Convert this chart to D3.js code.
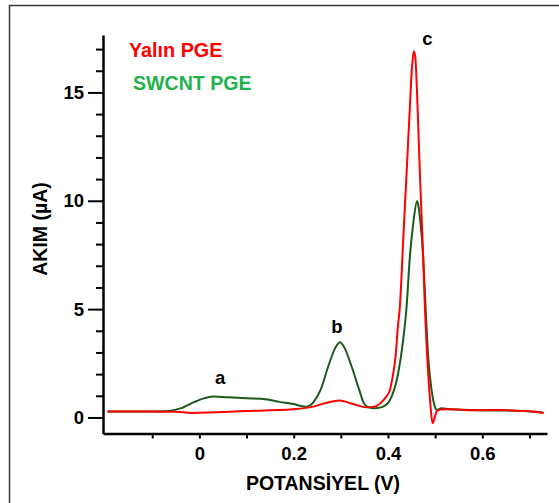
<!DOCTYPE html>
<html>
<head>
<meta charset="utf-8">
<script src="https://cdn.jsdelivr.net/npm/d3@7"></script>
<style>
  body { margin: 0; background: #fff; }
  svg { display: block; font-family: "Liberation Sans", Arial, sans-serif; font-weight: bold; }
</style>
</head>
<body>
<div id="chart"></div>
<script>
// Yalın PGE (red) - potential (V) and current (µA)
const yalinPot = [-0.195, -0.15, -0.1, -0.05, -0.015, 0.0, 0.05, 0.1, 0.15, 0.2, 0.2415, 0.27, 0.2966, 0.326,
  0.3545, 0.372, 0.386, 0.396, 0.404, 0.41, 0.416, 0.421, 0.4252, 0.4322, 0.4394, 0.4464, 0.451, 0.4549, 0.458,
  0.4627, 0.4676, 0.4733, 0.4782, 0.4852, 0.4903, 0.4945, 0.499, 0.503, 0.5136, 0.53, 0.56, 0.6, 0.64, 0.68, 0.71, 0.73];
const yalinCur = [0.27, 0.27, 0.27, 0.26, 0.21, 0.22, 0.25, 0.3, 0.33, 0.38, 0.5, 0.68, 0.78, 0.62,
  0.47, 0.5, 0.7, 0.95, 1.27, 1.9, 2.81, 4.2, 5.11, 8.19, 11.27, 14.34, 16.2, 16.9, 16.6,
  14.34, 11.27, 8.19, 5.11, 2.04, 0.5, -0.27, 0.0, 0.27, 0.38, 0.38, 0.35, 0.33, 0.35, 0.3, 0.28, 0.2];

// SWCNT PGE (green)
const swcntPot = [-0.195, -0.1, -0.065, -0.04, -0.01, 0.0, 0.014, 0.03, 0.06, 0.1, 0.14, 0.17, 0.2, 0.224, 0.235,
  0.2415, 0.257, 0.273, 0.288, 0.298, 0.308, 0.323, 0.339, 0.349, 0.358, 0.372, 0.39, 0.4076, 0.4216, 0.4322,
  0.4394, 0.4464, 0.4536, 0.4619, 0.465, 0.469, 0.4746, 0.4797, 0.4852, 0.4924, 0.4994, 0.503, 0.5136, 0.53,
  0.6, 0.65, 0.7, 0.73];
const swcntCur = [0.27, 0.28, 0.3, 0.42, 0.72, 0.81, 0.91, 0.97, 0.93, 0.89, 0.84, 0.72, 0.62, 0.5, 0.56,
  0.7, 1.27, 2.34, 3.2, 3.47, 3.2, 2.34, 1.27, 0.65, 0.47, 0.42, 0.5, 0.96, 2.04, 3.58,
  5.11, 7.42, 8.96, 9.99, 9.7, 8.96, 7.42, 5.11, 2.81, 1.27, 0.5, 0.35, 0.42, 0.38,
  0.33, 0.32, 0.28, 0.22];

// tick values
const xTicks = [-0.1, 0, 0.1, 0.2, 0.3, 0.4, 0.5, 0.6, 0.7];
const xLabels = [0, 0.2, 0.4, 0.6];
const yMajor = [0, 5, 10, 15];
const yMinor = [1, 2, 3, 4, 6, 7, 8, 9, 11, 12, 13, 14, 16, 17];

// peak labels
const peakNames = ['a', 'b', 'c'];
const peakPot = [0.0438, 0.2917, 0.4835];
const peakCur = [1.55, 3.89, 17.19];

const w = 559;
const h = 503;

const svg = d3.select('#chart').append('svg')
    .attr('width', w)
    .attr('height', h);

// frame (only top/left edges are in view)
svg.append('rect')
    .attr('x', 9.5).attr('y', 5.5)
    .attr('width', 700).attr('height', 700)
    .attr('fill', 'none')
    .attr('stroke', '#3a3a3a')
    .attr('stroke-width', 1.5);

const xScale = d3.scaleLinear().domain([-0.2044, 0.7372]).range([103, 547]);
const yScale = d3.scaleLinear().domain([-0.74, 17.65]).range([433.5, 35]);

// x axis
const xAxis = d3.axisBottom(xScale)
    .tickValues(xTicks)
    .tickSize(5)
    .tickSizeOuter(0)
    .tickPadding(8)
    .tickFormat((d) => xLabels.some((v) => Math.abs(v - d) < 1e-9) ? d3.format('~g')(d) : '');

const gx = svg.append('g')
    .attr('transform', 'translate(0,433.5)')
    .call(xAxis);
gx.select('.domain').attr('stroke-width', 2.5);
gx.selectAll('.tick line').attr('stroke-width', 2);
gx.selectAll('.tick text').attr('font-size', 18.5).attr('fill', '#000');
gx.attr('font-family', null).attr('font-size', null);

// y axis: minor ticks
const gyMinor = svg.append('g')
    .attr('transform', 'translate(103,0)')
    .call(d3.axisLeft(yScale).tickValues(yMinor).tickSize(7).tickSizeOuter(0).tickFormat(''));
gyMinor.selectAll('.tick line').attr('stroke-width', 2);

// y axis: major ticks + labels
const gy = svg.append('g')
    .attr('transform', 'translate(103,0)')
    .call(d3.axisLeft(yScale).tickValues(yMajor).tickSize(15).tickSizeOuter(0).tickPadding(4));
gy.select('.domain').attr('stroke-width', 2.5);
gyMinor.select('.domain').remove();
gy.selectAll('.tick line').attr('stroke-width', 2);
gy.selectAll('.tick text').attr('font-size', 18.5).attr('fill', '#000');
gy.attr('font-family', null).attr('font-size', null);

// axis titles
svg.append('text')
    .attr('x', 323)
    .attr('y', 490)
    .attr('text-anchor', 'middle')
    .attr('font-size', 19.5)
    .text('POTANSİYEL (V)');

svg.append('text')
    .attr('transform', 'translate(47,229) rotate(-90)')
    .attr('text-anchor', 'middle')
    .attr('font-size', 19.5)
    .text('AKIM (µA)');

// curves
const line = d3.line()
    .x((d) => xScale(d[0]))
    .y((d) => yScale(d[1]))
    .curve(d3.curveMonotoneX);

const yalin = yalinPot.map((v, i) => [v, yalinCur[i]]);
const swcnt = swcntPot.map((v, i) => [v, swcntCur[i]]);

svg.append('path')
    .datum(swcnt)
    .attr('fill', 'none')
    .attr('stroke', '#1c5a1c')
    .attr('stroke-width', 2)
    .attr('stroke-linejoin', 'round')
    .attr('d', line);

svg.append('path')
    .datum(yalin)
    .attr('fill', 'none')
    .attr('stroke', '#ff0000')
    .attr('stroke-width', 2)
    .attr('stroke-linejoin', 'round')
    .attr('d', line);

// peak labels
svg.selectAll('.peak')
    .data(peakNames)
    .enter()
    .append('text')
    .attr('class', 'peak')
    .attr('x', (d, i) => xScale(peakPot[i]))
    .attr('y', (d, i) => yScale(peakCur[i]))
    .attr('text-anchor', 'middle')
    .attr('font-size', 18.5)
    .text((d) => d);

// legend
svg.append('text')
    .attr('x', 129)
    .attr('y', 56.5)
    .attr('font-size', 19.8)
    .attr('fill', '#ff0000')
    .text('Yalın PGE');

svg.append('text')
    .attr('x', 133)
    .attr('y', 90)
    .attr('font-size', 19.6)
    .attr('fill', '#22b14c')
    .text('SWCNT PGE');
</script>
</body>
</html>
